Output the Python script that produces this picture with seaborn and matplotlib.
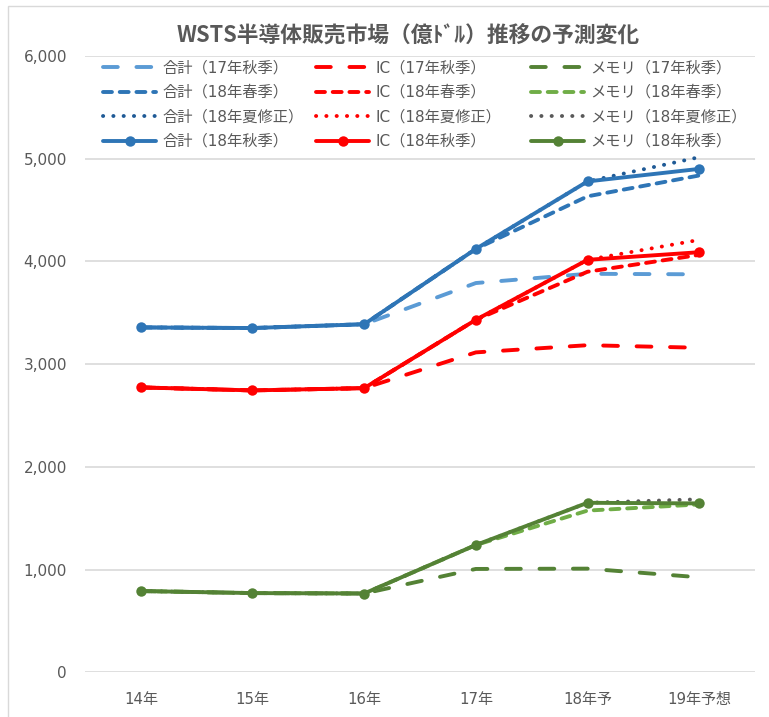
import matplotlib
matplotlib.use("Agg")
import matplotlib.pyplot as plt
from matplotlib.patches import Rectangle
from matplotlib.ticker import FuncFormatter
import seaborn as sns
import pandas as pd

# ---------------- data ----------------
years = ['14年', '15年', '16年', '17年', '18年予', '19年予想']

total_17a = [3358, 3352, 3389, 3790, 3880, 3875]
total_18s = [3358, 3352, 3389, 4122, 4634, 4837]
total_18su = [3358, 3352, 3389, 4122, 4779, 5015]
total_18a = [3358, 3352, 3389, 4122, 4779, 4901]

ic_17a = [2774, 2745, 2767, 3115, 3185, 3160]
ic_18s = [2774, 2745, 2767, 3432, 3900, 4064]
ic_18su = [2774, 2745, 2767, 3432, 4016, 4210]
ic_18a = [2774, 2745, 2767, 3432, 4016, 4090]

mem_17a = [792, 772, 768, 1007, 1010, 926]
mem_18s = [792, 772, 768, 1240, 1575, 1635]
mem_18su = [792, 772, 768, 1240, 1651, 1685]
mem_18a = [792, 772, 768, 1240, 1651, 1645]

title = 'WSTS半導体販売市場（億ﾄﾞﾙ）推移の予測変化'

sns.set_style('white')
plt.rcParams['font.family'] = ['DejaVu Sans', 'Noto Sans CJK JP']

W, H = 769, 717
fig = plt.figure(figsize=(W / 100, H / 100), dpi=100)
ax = fig.add_axes([85 / W, 1 - 672.4 / H, 670 / W, (672.4 - 56) / H])

LW = 2.8
long_dash = (0, (3.8, 4.8))
dash = (0, (2.3, 2.0))
dot = (0, (0.05, 2.6))

# (label, values, color, linestyle, marker, zorder)
series = [
    ('合計（18年秋季）', total_18a, '#2E75B6', '-', 'o', 6),
    ('IC（18年秋季）', ic_18a, '#FF0000', '-', 'o', 6),
    ('メモリ（18年秋季）', mem_18a, '#548235', '-', 'o', 6),
    ('合計（17年秋季）', total_17a, '#5B9BD5', long_dash, None, 3),
    ('合計（18年春季）', total_18s, '#2E75B6', dash, None, 3),
    ('合計（18年夏修正）', total_18su, '#1F5A96', dot, None, 3),
    ('IC（17年秋季）', ic_17a, '#FF0000', long_dash, None, 3),
    ('IC（18年春季）', ic_18s, '#FF0000', dash, None, 3),
    ('IC（18年夏修正）', ic_18su, '#FF0000', dot, None, 3),
    ('メモリ（17年秋季）', mem_17a, '#548235', long_dash, None, 3),
    ('メモリ（18年春季）', mem_18s, '#70AD47', dash, None, 3),
    ('メモリ（18年夏修正）', mem_18su, '#595959', dot, None, 3),
]

handles = {}
for label, vals, color, ls, mk, z in series:
    df = pd.DataFrame({'year': years, 'value': vals})
    kw = dict(color=color, linestyle=ls, lw=LW, zorder=z, label=label,
              solid_capstyle='round', dash_capstyle='round')
    if mk:
        kw.update(marker=mk, markersize=7.5, markeredgewidth=0)
    sns.lineplot(data=df, x='year', y='value', ax=ax, sort=False, **kw)
    handles[label] = ax.get_lines()[-1]

if ax.get_legend():
    ax.get_legend().remove()

ax.set_xlim(-0.5, 5.5)
ax.set_ylim(0, 6000)
ax.set_yticks(range(0, 6001, 1000))
ax.yaxis.set_major_formatter(FuncFormatter(lambda v, p: f'{int(v):,}'))
ax.grid(axis='y', color='#D9D9D9', lw=1.2)
ax.grid(axis='x', visible=False)
for s in ax.spines.values():
    s.set_visible(False)
ax.set_xlabel('')
ax.set_ylabel('')
ax.tick_params(axis='y', length=0, pad=13, labelsize=11, labelcolor='#595959')
ax.tick_params(axis='x', length=0, pad=14, labelsize=10.8, labelcolor='#595959')

# legend columns
groups = [
    ['合計（17年秋季）', '合計（18年春季）', '合計（18年夏修正）', '合計（18年秋季）'],
    ['IC（17年秋季）', 'IC（18年春季）', 'IC（18年夏修正）', 'IC（18年秋季）'],
    ['メモリ（17年秋季）', 'メモリ（18年春季）', 'メモリ（18年夏修正）', 'メモリ（18年秋季）'],
]
col_x = [103, 316, 531]
for gx, grp in zip(col_x, groups):
    fig.legend([handles[g] for g in grp], grp, loc='upper left',
               bbox_to_anchor=(gx / W, 1 - 60.5 / H), frameon=False,
               borderpad=0, borderaxespad=0, handlelength=3.5,
               handletextpad=0.4, labelspacing=0.62, fontsize=11,
               labelcolor='#595959')

fig.text(408 / W, 1 - 36 / H, title, ha='center', va='center',
         fontsize=15.7, fontweight='bold', color='#595959',
         family=['Noto Sans CJK JP', 'DejaVu Sans'])

fig.patches.append(Rectangle((8 / W, -0.05), 1.0, 1.05 - 6 / H,
                             transform=fig.transFigure, fill=False,
                             ec='#D9D9D9', lw=1))

fig.savefig('out.png', dpi=100)
